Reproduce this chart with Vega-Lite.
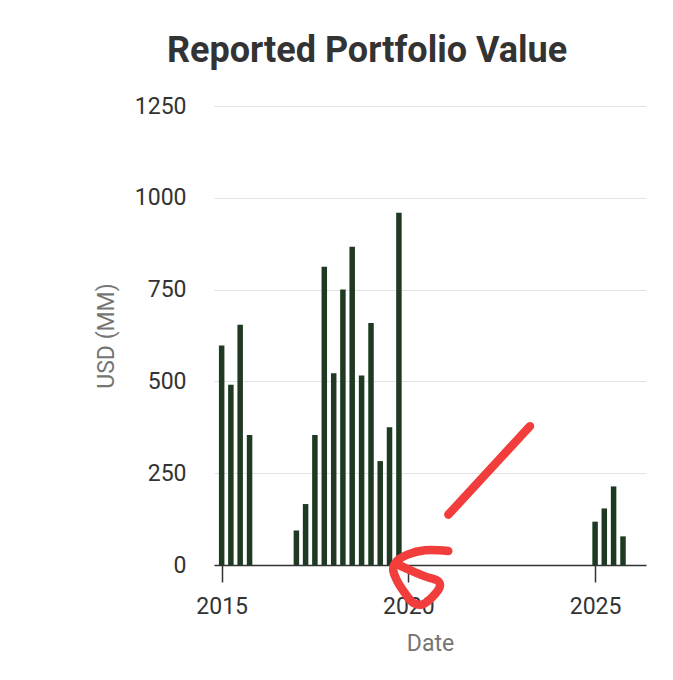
{
  "$schema": "https://vega.github.io/schema/vega-lite/v6.json",
  "autosize": "none",
  "padding": {"left": 214, "top": 106, "right": 27, "bottom": 115},
  "width": 432,
  "height": 459,
  "background": "white",
  "title": {
    "text": "Reported Portfolio Value",
    "font": "Roboto",
    "fontSize": 36,
    "fontWeight": "bold",
    "color": "#333333",
    "anchor": "middle",
    "dx": -63,
    "offset": 25
  },
  "datasets": {
    "portfolio": [
      {"date": "2015-01-01", "value": 598},
      {"date": "2015-04-01", "value": 491},
      {"date": "2015-07-01", "value": 654},
      {"date": "2015-10-01", "value": 354},
      {"date": "2017-01-01", "value": 94},
      {"date": "2017-04-01", "value": 166},
      {"date": "2017-07-01", "value": 354},
      {"date": "2017-10-01", "value": 812},
      {"date": "2018-01-01", "value": 522},
      {"date": "2018-04-01", "value": 750},
      {"date": "2018-07-01", "value": 867},
      {"date": "2018-10-01", "value": 516},
      {"date": "2019-01-01", "value": 659},
      {"date": "2019-04-01", "value": 283},
      {"date": "2019-07-01", "value": 375},
      {"date": "2019-10-01", "value": 959},
      {"date": "2025-01-01", "value": 118},
      {"date": "2025-04-01", "value": 154},
      {"date": "2025-07-01", "value": 214},
      {"date": "2025-10-01", "value": 78}
    ],
    "annotation": [
      {"stroke": "slash", "order": 1, "date": "2021-01-26", "value": 137},
      {"stroke": "slash", "order": 2, "date": "2023-04-05", "value": 378},
      {"stroke": "hook", "order": 1, "date": "2021-01-26", "value": 38},
      {"stroke": "hook", "order": 2, "date": "2020-06-12", "value": 40},
      {"stroke": "hook", "order": 3, "date": "2019-12-31", "value": 29},
      {"stroke": "hook", "order": 4, "date": "2019-09-08", "value": 10},
      {"stroke": "hook", "order": 5, "date": "2019-08-06", "value": -12},
      {"stroke": "hook", "order": 6, "date": "2019-09-08", "value": -40},
      {"stroke": "hook", "order": 7, "date": "2019-11-28", "value": -76},
      {"stroke": "hook", "order": 8, "date": "2020-02-18", "value": -103},
      {"stroke": "hook", "order": 9, "date": "2020-05-10", "value": -108},
      {"stroke": "hook", "order": 10, "date": "2020-08-16", "value": -89},
      {"stroke": "hook", "order": 11, "date": "2020-11-05", "value": -58},
      {"stroke": "hook", "order": 12, "date": "2020-10-20", "value": -44},
      {"stroke": "hook", "order": 13, "date": "2020-06-12", "value": -31},
      {"stroke": "hook", "order": 14, "date": "2019-12-31", "value": -12},
      {"stroke": "hook", "order": 15, "date": "2019-09-24", "value": 1}
    ]
  },
  "encoding": {
    "x": {
      "field": "date",
      "type": "temporal",
      "title": "Date",
      "scale": {
        "type": "utc",
        "padding": 0,
        "domain": [
          {"year": 2014, "month": 10, "date": 18, "utc": true},
          {"year": 2026, "month": 5, "date": 14, "utc": true}
        ]
      },
      "axis": {
        "tickCount": {"interval": "year", "step": 5},
        "format": "%Y",
        "grid": false,
        "domainColor": "#333333",
        "domainWidth": 1.5,
        "tickColor": "#333333",
        "tickWidth": 1.5,
        "tickSize": 17,
        "labelPadding": 13,
        "titlePadding": 14
      }
    },
    "y": {
      "field": "value",
      "type": "quantitative",
      "title": "USD (MM)",
      "scale": {"domain": [0, 1250], "nice": false},
      "axis": {
        "values": [0, 250, 500, 750, 1000, 1250],
        "format": "d",
        "domain": false,
        "ticks": false,
        "labelPadding": 28,
        "titlePadding": 16,
        "gridColor": "#e2e2e2",
        "gridWidth": 1.2
      }
    }
  },
  "layer": [
    {
      "data": {"name": "portfolio"},
      "mark": {"type": "bar", "color": "#1f3a22", "size": 5.5}
    },
    {
      "data": {"name": "annotation"},
      "mark": {
        "type": "line",
        "color": "#f23d3d",
        "strokeWidth": 8.5,
        "strokeCap": "round",
        "strokeJoin": "round",
        "interpolate": "catmull-rom",
        "clip": false
      },
      "encoding": {
        "detail": {"field": "stroke"},
        "order": {"field": "order", "type": "quantitative"}
      }
    }
  ],
  "config": {
    "font": "Roboto",
    "view": {"stroke": null},
    "axis": {
      "labelFont": "Roboto",
      "labelFontSize": 23,
      "labelColor": "#333333",
      "titleFont": "Roboto",
      "titleFontSize": 23,
      "titleFontWeight": "normal",
      "titleColor": "#757575"
    }
  }
}
